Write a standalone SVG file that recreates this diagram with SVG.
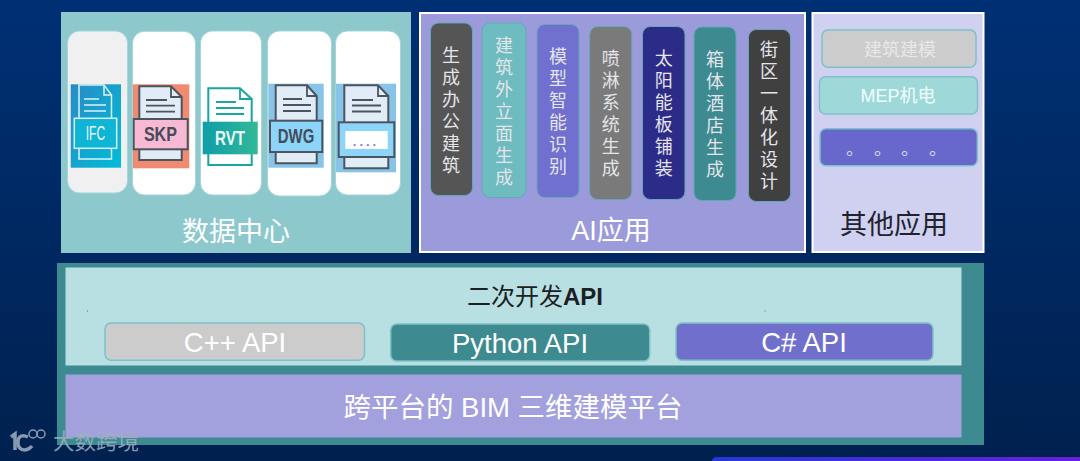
<svg xmlns="http://www.w3.org/2000/svg" width="1080" height="461" viewBox="0 0 1080 461">
<defs>
<linearGradient id="bg" x1="0" y1="0" x2="0" y2="1"><stop offset="0" stop-color="#003074"/><stop offset="1" stop-color="#00214f"/></linearGradient>
<linearGradient id="ifcBg" x1="0" y1="0" x2="1" y2="1"><stop offset="0" stop-color="#2a8cc4"/><stop offset="1" stop-color="#00bcd8"/></linearGradient>
<linearGradient id="rvtBand" x1="0" y1="0" x2="1" y2="0"><stop offset="0" stop-color="#0f9ea8"/><stop offset="1" stop-color="#32b898"/></linearGradient>
<linearGradient id="bar" x1="0" y1="0" x2="1" y2="0"><stop offset="0" stop-color="#2438d4"/><stop offset="1" stop-color="#6a1ee0"/></linearGradient>
</defs>
<style>
text{font-family:"Liberation Sans","Noto Sans CJK SC",sans-serif;fill:#fff;text-anchor:middle}
.card{stroke:#a5d5d8;stroke-width:1}
.bar{stroke:#62a8b8;stroke-width:1}
.v{font-size:18px;writing-mode:vertical-rl;letter-spacing:4px;text-anchor:start;fill:#e4e4ea}
.box{stroke:#7fc0c8;stroke-width:1.5}
.big{font-size:27px}
.api{font-size:27.500px}
.doc{fill:#e2ecf6;stroke:#4a5560;stroke-width:2}
.dl{fill:none;stroke:#4a5560;stroke-width:1.8}
.ic{font-size:20px;font-weight:bold;fill:#434c5a}
</style>
<rect width="1080" height="461" fill="url(#bg)"/>
<path d="M712 461 V460 Q713 457 717 457 H1080 V461 Z" fill="url(#bar)"/>

<g id="data-center">
<rect x="61" y="12" width="350" height="241" fill="#8cc8cc"/>
<text x="236" y="241" class="big" fill="#fff">数据中心</text>
<g id="file-ifc">
<rect class="card" x="67.500" y="31" width="60" height="162" rx="12" fill="#f0f0f0"/>
<rect x="70.700" y="84.300" width="50.300" height="83.400" fill="url(#ifcBg)"/>
<path d="M79 118V85H104L111.500 95V118M79 148V159H111.500V148" fill="none" stroke="#d8f4f8" stroke-width="1.500"/>
<path d="M104 85V95H111.500M84 99H99M84 105H106M84 111H106" fill="none" stroke="#d8f4f8" stroke-width="1.500"/>
<rect x="74.300" y="118.300" width="42.400" height="30" fill="#10b4d4" stroke="#d8f4f8" stroke-width="1.500"/>
<text x="95.400" y="140" font-size="20" textLength="19.500" lengthAdjust="spacingAndGlyphs" style="fill:#e8fafc">IFC</text>
</g>
<g id="file-skp">
<rect class="card" x="132.500" y="31.300" width="63" height="163.700" rx="12" fill="#fff"/>
<rect x="133" y="84.300" width="56.300" height="84" fill="#f08a70"/>
<path class="doc" d="M139.300 160V86.300H171L181.700 97V160Z"/>
<path class="dl" d="M171 86.300V97H181.700M146 100H167M146 105.700H175M146 111.700H175"/>
<rect x="133.700" y="119" width="54" height="30.300" fill="#f9b9d2" stroke="#4a5560" stroke-width="2"/>
<text x="160.400" y="141" class="ic" textLength="33" lengthAdjust="spacingAndGlyphs">SKP</text>
</g>
<g id="file-rvt">
<rect class="card" x="200.500" y="31" width="61" height="164" rx="12" fill="#fff"/>
<path d="M208.300 165V88.300H240L251.700 99V165Z" fill="#fff" stroke="#1aa6a0" stroke-width="2"/>
<path d="M240 88.300V99H251.700M216 102H236M216 108H244M216 114H244" fill="none" stroke="#1aa6a0" stroke-width="1.800"/>
<rect x="202.700" y="121.700" width="55" height="32.600" fill="url(#rvtBand)"/>
<text x="230" y="145" font-size="20" font-weight="bold" textLength="30" lengthAdjust="spacingAndGlyphs" style="fill:#eafaf6">RVT</text>
</g>
<g id="file-dwg">
<rect class="card" x="267.500" y="31" width="64" height="165" rx="12" fill="#fff"/>
<rect x="268.300" y="83.700" width="55.400" height="84" fill="#88c4e8"/>
<path class="doc" d="M275.700 163.300V85.300H307L316.700 96V163.300Z"/>
<path class="dl" d="M307 85.300V96H316.700M283 99H302M283 105H311M283 111H311"/>
<rect x="270" y="120.700" width="52.300" height="31.300" fill="#8cd4f8" stroke="#4a5560" stroke-width="2"/>
<text x="296" y="143.300" class="ic" textLength="36.500" lengthAdjust="spacingAndGlyphs">DWG</text>
</g>
<g id="file-more">
<rect class="card" x="335.500" y="31" width="65" height="164" rx="12" fill="#fff"/>
<rect x="336" y="83.700" width="60" height="88.600" fill="#88c4e8"/>
<path class="doc" d="M344.300 168.300V85.300H378L388.300 96V168.300Z"/>
<path class="dl" d="M378 85.300V96H388.300M352 100H373M352 105.500H381M352 111.500H381"/>
<rect x="338.700" y="122.300" width="55.600" height="34.700" fill="#8cd4f8" stroke="#4a5560" stroke-width="2"/>
<rect x="345.300" y="131" width="42.400" height="18" fill="#fff"/>
<text x="366" y="146" font-size="13" font-weight="bold" letter-spacing="3" style="fill:#8a80dc">....</text>
</g>
</g>

<g id="ai-apps">
<rect x="420" y="13" width="385" height="239" fill="#9b9bdc" stroke="#fff" stroke-width="2"/>
<text x="611" y="240" class="big">AI应用</text>
<g id="ai-1"><rect class="bar" x="430.500" y="23" width="42" height="172.500" rx="8" fill="#555"/><text class="v" x="449" y="46">生成办公建筑</text></g>
<g id="ai-2"><rect class="bar" x="482" y="23" width="44" height="174.500" rx="8" fill="#6ebcc0"/><text class="v" x="502" y="36">建筑外立面生成</text></g>
<g id="ai-3"><rect class="bar" x="537" y="24.500" width="42" height="173" rx="8" fill="#7070d0"/><text class="v" x="556" y="47.500">模型智能识别</text></g>
<g id="ai-4"><rect class="bar" x="589.700" y="26.500" width="42" height="173" rx="8" fill="#7a7a7a"/><text class="v" x="608.700" y="49">喷淋系统生成</text></g>
<g id="ai-5"><rect class="bar" x="642.500" y="26.500" width="42.500" height="173" rx="8" fill="#2c2c88"/><text class="v" x="661.700" y="48.700">太阳能板铺装</text></g>
<g id="ai-6"><rect class="bar" x="694" y="27" width="42" height="173.500" rx="8" fill="#3d8a90"/><text class="v" x="713" y="50">箱体酒店生成</text></g>
<g id="ai-7"><rect class="bar" x="748.500" y="29.500" width="42" height="172" rx="8" fill="#404040"/><text class="v" x="767" y="40.300">街区一体化设计</text></g>
</g>

<g id="other-apps">
<rect x="812.500" y="13" width="171" height="239" fill="#d0d0f0" stroke="#fff" stroke-width="2"/>
<text x="894" y="234" class="big" style="fill:#20222e">其他应用</text>
<g id="other-1"><rect class="box" x="822" y="30" width="154" height="37.300" rx="6" fill="#cccccc"/><text x="900" y="56" font-size="18" style="fill:#e8e8e8">建筑建模</text></g>
<g id="other-2"><rect class="box" x="819.500" y="76.700" width="158" height="37.300" rx="6" fill="#9fd8d8"/><text x="898" y="102" font-size="18" style="fill:#f2ffff">MEP机电</text></g>
<g id="other-3"><rect class="box" x="820" y="128.700" width="157.300" height="37" rx="6" fill="#6868cc"/><text x="846 874 901 929" y="155" font-size="18" style="text-anchor:start;fill:#d8d8f4">。。。。</text></g>
</g>

<g id="platform">
<rect x="57" y="263" width="927" height="182" fill="#3d8a90"/>
<g id="api-layer">
<rect x="65.500" y="267.500" width="896" height="98" fill="#b8e0e2"/>
<rect x="87" y="310.500" width="1" height="1" fill="#667"/><rect x="764.500" y="310.500" width="1" height="1" fill="#667"/>
<text x="535" y="305" font-size="24" style="fill:#1c2024">二次开发<tspan font-weight="bold">API</tspan></text>
<g id="api-cpp"><rect class="box" x="105" y="323" width="259.500" height="37.300" rx="6" fill="#cccccc"/><text x="235" y="351.500" class="api">C++ API</text></g>
<g id="api-python"><rect class="box" x="390.700" y="324" width="259" height="37" rx="6" fill="#3d8a90"/><text x="520" y="352.500" class="api">Python API</text></g>
<g id="api-csharp"><rect class="box" x="676" y="323" width="257" height="37.300" rx="6" fill="#7070cc"/><text x="804" y="351.500" class="api">C# API</text></g>
</g>
<g id="bim-layer">
<rect x="65.500" y="374.500" width="896" height="63" fill="#a3a0de"/>
<text x="513" y="417" class="api">跨平台的 BIM 三维建模平台</text>
</g>
</g>

<g id="watermark" opacity="0.85">
<path d="M11 437L15 434V450" fill="none" stroke="#9fb0c2" stroke-width="3.500"/>
<path d="M28 437C20 433 17 439 18 444C19 451 27 452 32 446" fill="none" stroke="#9fb0c2" stroke-width="3.500"/>
<circle cx="33" cy="434" r="4" fill="none" stroke="#9fb0c2" stroke-width="1.500"/>
<circle cx="41" cy="434" r="4" fill="none" stroke="#9fb0c2" stroke-width="1.500"/>
<text x="96" y="449" font-size="21.500" style="fill:#9fb0c2">大数跨境</text>
</g>
</svg>
